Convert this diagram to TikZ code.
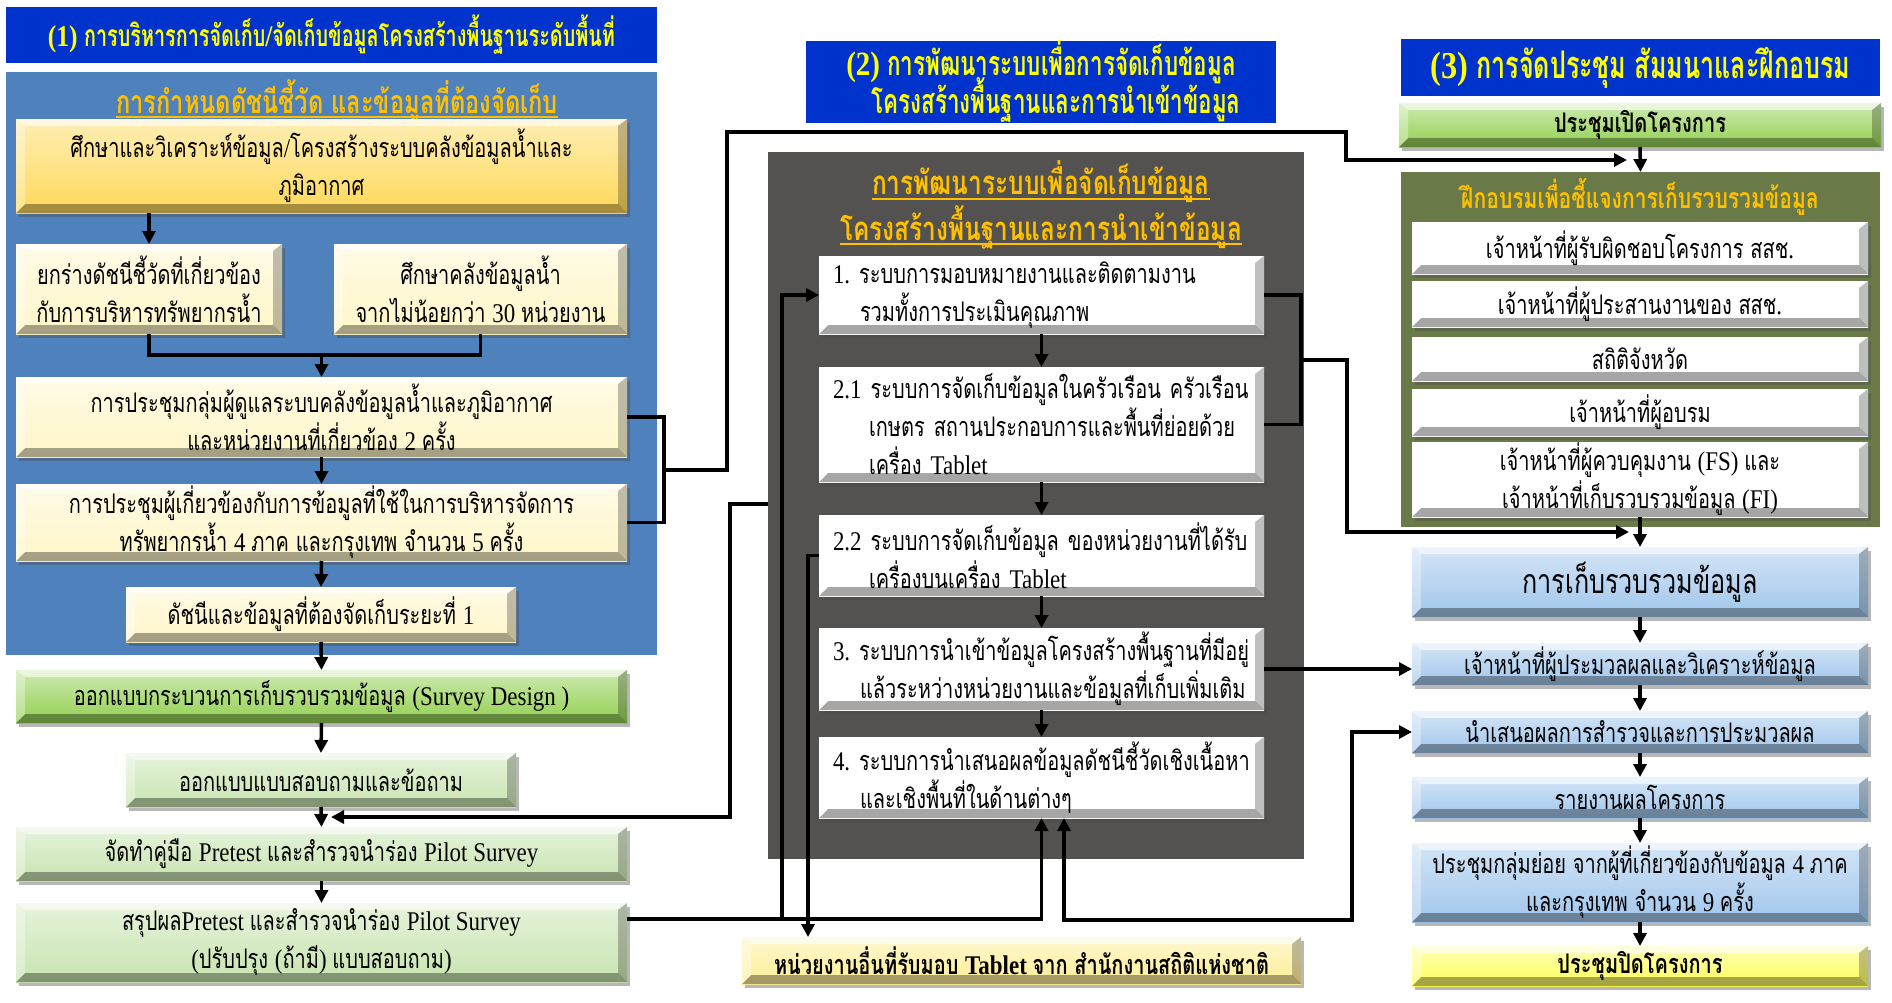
\documentclass[tikz,border=0pt]{standalone}
\usepackage{fontspec}
\usetikzlibrary{arrows.meta,calc,shadows}
\frenchspacing
\newfontfamily\thN[Script=Thai,FakeStretch=0.74]{Loma}
\newfontfamily\thB[Script=Thai,FakeStretch=0.66]{Loma}
\newfontfamily\laN[FakeStretch=0.85]{Liberation Serif}
\def\thcur{\thN}\def\lacur{\laN}
\newcommand\useN{\def\thcur{\thN}\def\lacur{\laN}\thN}
\newcommand\useB{\def\thcur{\thB}\def\lacur{\laN}\thB}
\chardef\clThai=21
\chardef\clLat=22
\newcount\mycnt
\mycnt="0E01
\loop \XeTeXcharclass\mycnt=\clThai \advance\mycnt by 1 \ifnum\mycnt<"0E5C \repeat
\mycnt=65
\loop \XeTeXcharclass\mycnt=\clLat \advance\mycnt by 1 \ifnum\mycnt<91 \repeat
\mycnt=97
\loop \XeTeXcharclass\mycnt=\clLat \advance\mycnt by 1 \ifnum\mycnt<123 \repeat
\mycnt=48
\loop \XeTeXcharclass\mycnt=\clLat \advance\mycnt by 1 \ifnum\mycnt<58 \repeat
\XeTeXcharclass`(=\clLat \XeTeXcharclass`)=\clLat \XeTeXcharclass`.=\clLat
\XeTeXcharclass`/=\clLat \XeTeXcharclass`,=\clLat
\XeTeXinterchartokenstate=1
\XeTeXinterchartoks 0 \clThai = {\thcur}
\XeTeXinterchartoks 4095 \clThai = {\thcur}
\XeTeXinterchartoks \clLat \clThai = {\thcur}
\XeTeXinterchartoks 0 \clLat = {\lacur}
\XeTeXinterchartoks 4095 \clLat = {\lacur}
\XeTeXinterchartoks \clThai \clLat = {\lacur}
\newcommand\myfN{\useN\fontsize{27}{38}\selectfont\lineskiplimit=-60pt\frenchspacing}
\newcommand\myfB{\useN\bfseries\fontsize{27}{38}\selectfont\frenchspacing}
\newcommand\myfT[1]{\useN\bfseries\fontsize{#1}{38}\selectfont}
\newcommand\myfH[1]{\useB\bfseries\fontsize{#1}{38}\selectfont\lineskiplimit=-60pt}
\newcommand\myfG{\useN\fontsize{34}{40}\selectfont}
\definecolor{hdrblue}{RGB}{0,51,204}
\definecolor{panblue}{RGB}{79,129,189}
\definecolor{goldc}{RGB}{255,217,90}
\definecolor{creamc}{RGB}{255,246,200}
\definecolor{greenc}{RGB}{146,208,80}
\definecolor{lgreen}{RGB}{200,228,176}
\definecolor{graypan}{RGB}{83,82,80}
\definecolor{olivec}{RGB}{106,121,72}
\definecolor{lblue}{RGB}{160,198,236}
\definecolor{yelc}{RGB}{255,255,90}
\definecolor{tyel}{RGB}{255,238,150}
\definecolor{titc}{RGB}{255,192,0}
\definecolor{hdrtxt}{RGB}{255,255,0}
\newcommand\bevelpic{%
 \coordinate (bnw) at (path picture bounding box.north west);
 \coordinate (bne) at (path picture bounding box.north east);
 \coordinate (bsw) at (path picture bounding box.south west);
 \coordinate (bse) at (path picture bounding box.south east);
 \fill[white,opacity=.6] (bnw) -- (bne) -- ([shift={(-9pt,-7pt)}]bne) -- ([shift={(9pt,-7pt)}]bnw) -- cycle;
 \fill[black,opacity=.35] (bsw) -- (bse) -- ([shift={(-9pt,9pt)}]bse) -- ([shift={(9pt,9pt)}]bsw) -- cycle;
 \fill[white,opacity=.35] (bnw) -- ([shift={(9pt,-7pt)}]bnw) -- ([shift={(9pt,9pt)}]bsw) -- (bsw) -- cycle;
 \fill[black,opacity=.25] (bne) -- ([shift={(-9pt,-7pt)}]bne) -- ([shift={(-9pt,9pt)}]bse) -- (bse) -- cycle;
}
\tikzset{
 bx/.style={anchor=north west, inner sep=0pt, outer sep=0pt, align=center, text=black,
   path picture=\bevelpic, drop shadow={shadow xshift=3pt,shadow yshift=-4pt,opacity=.4,fill=black!70}},
 grad/.style={top color=#1!45!white, bottom color=#1},
 pan/.style={anchor=north west, inner sep=0pt, outer sep=0pt, fill=#1},
 hdr/.style={anchor=north west, inner sep=0pt, outer sep=0pt, fill=hdrblue, text=hdrtxt, align=center},
 ttl/.style={inner sep=0pt, text=titc},
 mtx/.style={align=left, text width=429pt, inner xsep=8pt, inner ysep=0pt},
 ln/.style={line width=3.5pt},
 arr/.style={line width=3.5pt,-{Triangle[length=13pt,width=13pt]}},
 darr/.style={line width=3.5pt,{Triangle[length=13pt,width=13pt]}-{Triangle[length=13pt,width=13pt]}}
}
\begin{document}
\begin{tikzpicture}[x=1pt,y=-1pt]
\fill[white] (0,0) rectangle (1892,1002);
\useasboundingbox (0,0) rectangle (1892,1002);
% ---------- column 1 ----------
\node[hdr, minimum width=651pt, minimum height=56pt, font={\myfH{30}}] (h1) at (6,7) {(1) การบริหารการจัดเก็บ/จัดเก็บข้อมูลโครงสร้างพื้นฐานระดับพื้นที่};
\node[pan=panblue, minimum width=651pt, minimum height=583pt] (p1) at (6,72) {};
\node[ttl, font={\myfT{32}}] (t1) at (337,100) {การกำหนดดัชนีชี้วัด และข้อมูลที่ต้องจัดเก็บ};
\draw[titc, line width=1.5pt] ([yshift=-4pt]t1.base west) -- ([yshift=-4pt]t1.base east);
\node[bx, grad=goldc, minimum width=611pt, minimum height=94pt, font=\myfN] (A) at (16,119) {ศึกษาและวิเคราะห์ข้อมูล/โครงสร้างระบบคลังข้อมูลน้ำและ\\ภูมิอากาศ};
\node[bx, grad=creamc, minimum width=266pt, minimum height=90pt, font=\myfN] (B1) at (16,244) {ยกร่างดัชนีชี้วัดที่เกี่ยวข้อง\\กับการบริหารทรัพยากรน้ำ};
\node[bx, grad=creamc, minimum width=293pt, minimum height=90pt, font=\myfN] (B2) at (334,244) {ศึกษาคลังข้อมูลน้ำ\\จากไม่น้อยกว่า 30 หน่วยงาน};
\node[bx, grad=creamc, minimum width=611pt, minimum height=80pt, font=\myfN] (C) at (16,377) {การประชุมกลุ่มผู้ดูแลระบบคลังข้อมูลน้ำและภูมิอากาศ\\และหน่วยงานที่เกี่ยวข้อง 2 ครั้ง};
\node[bx, grad=creamc, minimum width=611pt, minimum height=77pt, font=\myfN] (D) at (16,484) {การประชุมผู้เกี่ยวข้องกับการข้อมูลที่ใช้ในการบริหารจัดการ\\ทรัพยากรน้ำ 4 ภาค และกรุงเทพ จำนวน 5 ครั้ง};
\node[bx, grad=creamc, minimum width=390pt, minimum height=55pt, font=\myfN] (E) at (126,587) {ดัชนีและข้อมูลที่ต้องจัดเก็บระยะที่ 1};
\node[bx, grad=greenc, minimum width=611pt, minimum height=53pt, font=\myfN] (F) at (16,670) {ออกแบบกระบวนการเก็บรวบรวมข้อมูล (Survey Design )};
\node[bx, grad=lgreen, minimum width=390pt, minimum height=54pt, font=\myfN] (H) at (126,753) {ออกแบบแบบสอบถามและข้อถาม};
\node[bx, grad=lgreen, minimum width=611pt, minimum height=54pt, font=\myfN] (I) at (16,827) {จัดทำคู่มือ Pretest และสำรวจนำร่อง Pilot Survey};
\node[bx, grad=lgreen, minimum width=611pt, minimum height=79pt, font=\myfN] (Q) at (16,903) {สรุปผลPretest และสำรวจนำร่อง Pilot Survey\\(ปรับปรุง (ถ้ามี) แบบสอบถาม)};
% ---------- column 2 ----------
\node[hdr, minimum width=470pt, minimum height=78pt, font={\myfH{34}}] (h2) at (806,41) {(2) การพัฒนาระบบเพื่อการจัดเก็บข้อมูล\\\hspace*{30pt}โครงสร้างพื้นฐานและการนำเข้าข้อมูล};
\node[pan=graypan, minimum width=536pt, minimum height=707pt] (p2) at (768,152) {};
\node[ttl, font={\myfT{33}}] (t2a) at (1041,182) {การพัฒนาระบบเพื่อจัดเก็บข้อมูล};
\node[ttl, font={\myfT{33}}] (t2b) at (1041,227) {โครงสร้างพื้นฐานและการนำเข้าข้อมูล};
\draw[titc, line width=1.5pt] ([yshift=-4pt]t2a.base west) -- ([yshift=-4pt]t2a.base east);
\draw[titc, line width=1.5pt] ([yshift=-4pt]t2b.base west) -- ([yshift=-4pt]t2b.base east);
\node[bx, grad=white, mtx, minimum width=445pt, minimum height=78pt, font=\myfN] (M1) at (819,256) {\hspace*{6pt}1. ระบบการมอบหมายงานและติดตามงาน\\\hspace*{33pt}รวมทั้งการประเมินคุณภาพ};
\node[bx, grad=white, mtx, minimum width=445pt, minimum height=115pt, font=\myfN] (M2) at (819,367) {\hspace*{6pt}2.1 ระบบการจัดเก็บข้อมูลในครัวเรือน ครัวเรือน\\\hspace*{42pt}เกษตร สถานประกอบการและพื้นที่ย่อยด้วย\\\hspace*{42pt}เครื่อง Tablet};
\node[bx, grad=white, mtx, minimum width=445pt, minimum height=81pt, font=\myfN] (M3) at (819,515) {\hspace*{6pt}2.2 ระบบการจัดเก็บข้อมูล ของหน่วยงานที่ได้รับ\\\hspace*{42pt}เครื่องบนเครื่อง Tablet};
\node[bx, grad=white, mtx, minimum width=445pt, minimum height=82pt, font=\myfN] (M4) at (819,628) {\hspace*{6pt}3. ระบบการนำเข้าข้อมูลโครงสร้างพื้นฐานที่มีอยู่\\\hspace*{33pt}แล้วระหว่างหน่วยงานและข้อมูลที่เก็บเพิ่มเติม};
\node[bx, grad=white, mtx, minimum width=445pt, minimum height=81pt, font=\myfN] (M5) at (819,737) {\hspace*{6pt}4. ระบบการนำเสนอผลข้อมูลดัชนีชี้วัดเชิงเนื้อหา\\\hspace*{33pt}และเชิงพื้นที่ในด้านต่างๆ};
\node[bx, grad=tyel, minimum width=559pt, minimum height=47pt, font=\myfB] (T) at (742,937) {หน่วยงานอื่นที่รับมอบ Tablet จาก สำนักงานสถิติแห่งชาติ};
% ---------- column 3 ----------
\node[hdr, minimum width=479pt, minimum height=57pt, font={\myfH{38}}] (h3) at (1401,39) {(3) การจัดประชุม สัมมนาและฝึกอบรม};
\node[bx, grad=greenc, minimum width=482pt, minimum height=44pt, font=\myfB] (R0) at (1399,103) {ประชุมเปิดโครงการ};
\node[pan=olivec, minimum width=479pt, minimum height=355pt] (p3) at (1401,172) {};
\node[ttl, font={\myfT{28.5}}] (t3) at (1640,197) {ฝึกอบรมเพื่อชี้แจงการเก็บรวบรวมข้อมูล};
\node[bx, grad=white, minimum width=456pt, minimum height=52pt, font=\myfN] (W1) at (1412,222) {เจ้าหน้าที่ผู้รับผิดชอบโครงการ สสช.};
\node[bx, grad=white, minimum width=456pt, minimum height=46pt, font=\myfN] (W2) at (1412,281) {เจ้าหน้าที่ผู้ประสานงานของ สสช.};
\node[bx, grad=white, minimum width=456pt, minimum height=44pt, font=\myfN] (W3) at (1412,337) {สถิติจังหวัด};
\node[bx, grad=white, minimum width=456pt, minimum height=47pt, font=\myfN] (W4) at (1412,389) {เจ้าหน้าที่ผู้อบรม};
\node[bx, grad=white, minimum width=456pt, minimum height=75pt, font=\myfN] (W5) at (1412,442) {เจ้าหน้าที่ผู้ควบคุมงาน (FS) และ\\เจ้าหน้าที่เก็บรวบรวมข้อมูล (FI)};
\node[bx, grad=lblue, minimum width=456pt, minimum height=70pt, font=\myfG] (G1) at (1412,547) {การเก็บรวบรวมข้อมูล};
\node[bx, grad=lblue, minimum width=456pt, minimum height=42pt, font=\myfN] (G2) at (1412,643) {เจ้าหน้าที่ผู้ประมวลผลและวิเคราะห์ข้อมูล};
\node[bx, grad=lblue, minimum width=456pt, minimum height=42pt, font=\myfN] (G3) at (1412,711) {นำเสนอผลการสำรวจและการประมวลผล};
\node[bx, grad=lblue, minimum width=456pt, minimum height=41pt, font=\myfN] (G4) at (1412,777) {รายงานผลโครงการ};
\node[bx, grad=lblue, minimum width=456pt, minimum height=79pt, font=\myfN] (G5) at (1412,843) {ประชุมกลุ่มย่อย จากผู้ที่เกี่ยวข้องกับข้อมูล 4 ภาค\\และกรุงเทพ จำนวน 9 ครั้ง};
\node[bx, grad=yelc, minimum width=456pt, minimum height=40pt, font=\myfB] (G6) at (1412,946) {ประชุมปิดโครงการ};
% ---------- connectors column 1 ----------
\draw[arr] (A.south -| B1.north) -- (B1.north);
\coordinate (jb) at ($(B1.south)+(0,21)$);
\draw[ln] (B1.south) -- (jb) -| (B2.south);
\draw[arr] (jb -| C.north) -- (C.north);
\draw[arr] (C.south) -- (D.north);
\draw[arr] (D.south) -- (E.north);
\draw[arr] (E.south) -- (F.north);
\draw[arr] (F.south) -- (H.north);
\draw[arr] (H.south) -- (I.north);
\draw[arr] (I.south) -- (Q.north);
\coordinate (kb) at ($(C.east)+(37,0)$);
\draw[ln] (C.east) -- (kb) |- (D.east);
\coordinate (km) at ($(kb)!0.5!(kb |- D.east)$);
\coordinate (e1) at ($(R0.south)+(-13,13)$);
\draw[arr] (km) -- ++(63,0) -- ++(0,-338) -- ++(619,0) |- (e1);
% ---------- connectors column 2 ----------
\draw[arr] (M1.south) -- (M2.north);
\draw[arr] (M2.south) -- (M3.north);
\draw[arr] (M3.south) -- (M4.north);
\draw[arr] (M4.south) -- (M5.north);
\coordinate (mb) at ($(M1.east)+(37,0)$);
\draw[ln] (M1.east) -- (mb) |- (M2.east);
\coordinate (mm) at ($(mb)!0.5!(mb |- M2.east)$);
\coordinate (e2) at ($(G1.north)+(-11,-15)$);
\draw[arr] (mm) -- ++(46,0) |- (e2);
\draw[arr] (M4.east) -- (M4.east -| G2.west);
\coordinate (q0) at ($(Q.north east)+(0,16)$);
\coordinate (q1) at (q0 -| M5.south);
\draw[arr] (q0) -- (q1) -- (M5.south);
\coordinate (q2) at ($(q0)+(155,0)$);
\draw[arr] (q2) |- (M1.west);
\coordinate (t0) at ($(M3.west)+(-11,0)$);
\draw[arr] (M3.west) -- (t0) -- (t0 |- T.north);
\coordinate (p0) at ($(p2.north west)+(0,352)$);
\coordinate (e3) at ($(H.south)+(10,10)$);
\draw[arr] (p0) -- ++(-38,0) |- (e3);
\coordinate (g0) at ($(G3.west)+(-60,0)$);
\coordinate (g1) at ($(M5.south)+(22.5,102)$);
\draw[darr] (G3.west) -- (g0) |- (g1) -- (g1 |- M5.south);
% ---------- connectors column 3 ----------
\draw[arr] (R0.south) -- (p3.north);
\draw[arr] (W5.south) -- (G1.north);
\draw[arr] (G1.south) -- (G2.north);
\draw[arr] (G2.south) -- (G3.north);
\draw[arr] (G3.south) -- (G4.north);
\draw[arr] (G4.south) -- (G5.north);
\draw[arr] (G5.south) -- (G6.north);
\end{tikzpicture}
\end{document}
